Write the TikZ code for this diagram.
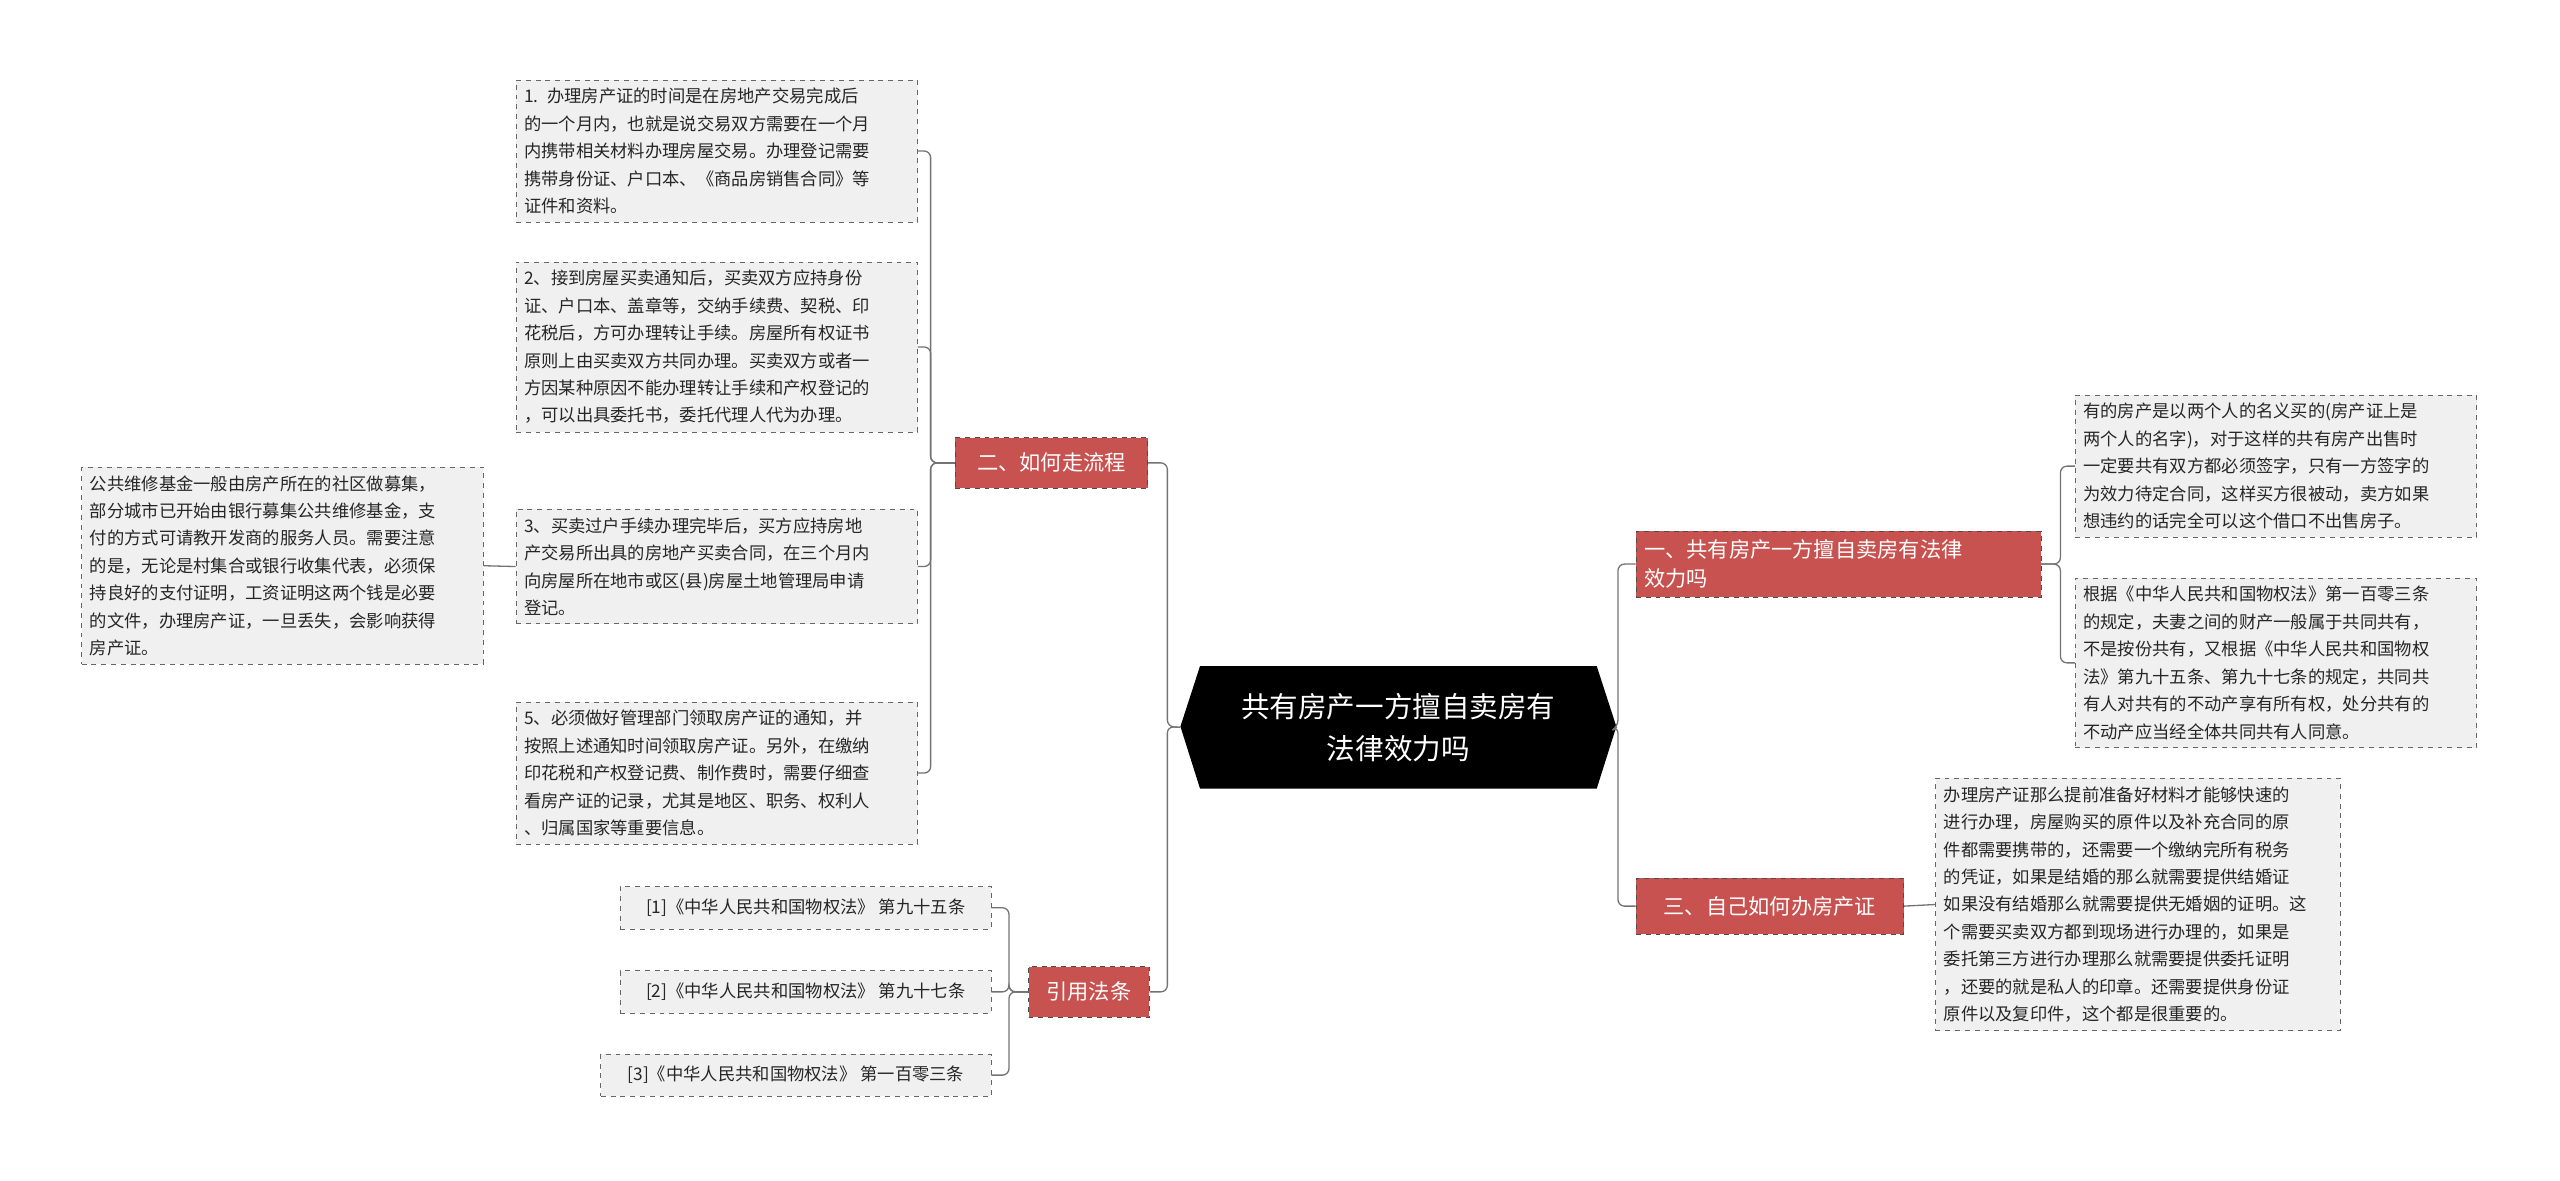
\documentclass[tikz,border=0pt]{standalone}
\usepackage{fontspec}
\setmainfont{Noto Sans CJK SC}
\definecolor{brc}{RGB}{200,82,80}
\begin{document}
\begin{tikzpicture}[x=1pt,y=-1pt,
leaf/.style={draw=black!60,dashed,fill=black!6,align=left,inner sep=5pt,font=\fontsize{10.6}{16.8}\selectfont,text=black!85},
br/.style={draw=black!70,dashed,fill=brc,text=white,inner sep=5pt,font=\fontsize{13}{18}\selectfont,align=left},
conn/.style={draw=black!55,line width=0.8pt,rounded corners=4pt}]
\useasboundingbox (0,0) rectangle (1568,723);
% center
\fill (723,445) -- (735,408) -- (978,408) -- (990,445) -- (978,483) -- (735,483) -- cycle;
\node[text=white,align=center,font=\fontsize{17.5}{26}\selectfont,minimum width=267,minimum height=75] (c) at (856.5,445.5) {共有房产一方擅自卖房有\\法律效力吗};
% branches
\node[br,minimum width=118,minimum height=31] (b1) at (644,283.5) {二、如何走流程};
\node[br,minimum width=74,minimum height=31] (b2) at (667,607.5) {引用法条};
\node[br,text width=238] (b3) at (1126,345.5) {一、共有房产一方擅自卖房有法律\\效力吗};
\node[br,minimum width=164,minimum height=34] (b4) at (1084,555) {三、自己如何办房产证};
% left leaves
\node[leaf,text width=236] (l1) at (439,92.5) {1. 办理房产证的时间是在房地产交易完成后\\的一个月内，也就是说交易双方需要在一个月\\内携带相关材料办理房屋交易。办理登记需要\\携带身份证、户口本、《商品房销售合同》等\\证件和资料。};
\node[leaf,text width=236] (l2) at (439,212.5) {2、接到房屋买卖通知后，买卖双方应持身份\\证、户口本、盖章等，交纳手续费、契税、印\\花税后，方可办理转让手续。房屋所有权证书\\原则上由买卖双方共同办理。买卖双方或者一\\方因某种原因不能办理转让手续和产权登记的\\，可以出具委托书，委托代理人代为办理。};
\node[leaf,text width=236] (l3) at (439,347) {3、买卖过户手续办理完毕后，买方应持房地\\产交易所出具的房地产买卖合同，在三个月内\\向房屋所在地市或区(县)房屋土地管理局申请\\登记。};
\node[leaf,text width=236] (l5) at (439,473.5) {5、必须做好管理部门领取房产证的通知，并\\按照上述通知时间领取房产证。另外，在缴纳\\印花税和产权登记费、制作费时，需要仔细查\\看房产证的记录，尤其是地区、职务、权利人\\、归属国家等重要信息。};
\node[leaf,text width=236] (f) at (173,346.5) {公共维修基金一般由房产所在的社区做募集，\\部分城市已开始由银行募集公共维修基金，支\\付的方式可请教开发商的服务人员。需要注意\\的是，无论是村集合或银行收集代表，必须保\\持良好的支付证明，工资证明这两个钱是必要\\的文件，办理房产证，一旦丢失，会影响获得\\房产证。};
\node[leaf,minimum width=227,minimum height=26,inner sep=3pt] (r1) at (493.5,556) {[1]《中华人民共和国物权法》 第九十五条};
\node[leaf,minimum width=227,minimum height=26,inner sep=3pt] (r2) at (493.5,607.5) {[2]《中华人民共和国物权法》 第九十七条};
\node[leaf,minimum width=239,minimum height=26,inner sep=3pt] (r3) at (487.5,658.5) {[3]《中华人民共和国物权法》 第一百零三条};
% right leaves
\node[leaf,text width=236] (q1) at (1394,285.5) {有的房产是以两个人的名义买的(房产证上是\\两个人的名字)，对于这样的共有房产出售时\\一定要共有双方都必须签字，只有一方签字的\\为效力待定合同，这样买方很被动，卖方如果\\想违约的话完全可以这个借口不出售房子。};
\node[leaf,text width=236] (q2) at (1394,406) {根据《中华人民共和国物权法》第一百零三条\\的规定，夫妻之间的财产一般属于共同共有，\\不是按份共有，又根据《中华人民共和国物权\\法》第九十五条、第九十七条的规定，共同共\\有人对共有的不动产享有所有权，处分共有的\\不动产应当经全体共同共有人同意。};
\node[leaf,text width=238] (q3) at (1309.5,554) {办理房产证那么提前准备好材料才能够快速的\\进行办理，房屋购买的原件以及补充合同的原\\件都需要携带的，还需要一个缴纳完所有税务\\的凭证，如果是结婚的那么就需要提供结婚证\\如果没有结婚那么就需要提供无婚姻的证明。这\\个需要买卖双方都到现场进行办理的，如果是\\委托第三方进行办理那么就需要提供委托证明\\，还要的就是私人的印章。还需要提供身份证\\原件以及复印件，这个都是很重要的。};
% connectors
\foreach \t in {b1,b2} \draw[conn] (c.west) -- (715,445) |- (\t.east);
\foreach \t in {b3,b4} \draw[conn] (c.east) -- (991,445) |- (\t.west);
\foreach \t in {l1,l2,l3,l5} \draw[conn] (b1.west) -- (570,283.5) |- (\t.east);
\foreach \t in {r1,r2,r3} \draw[conn] (b2.west) -- (618,607.5) |- (\t.east);
\foreach \t in {q1,q2} \draw[conn] (b3.east) -- (1262,345.5) |- (\t.west);
\draw[conn] (b4.east) -- (q3.west);
\draw[conn] (l3.west) -- (f.east);
\end{tikzpicture}
\end{document}
